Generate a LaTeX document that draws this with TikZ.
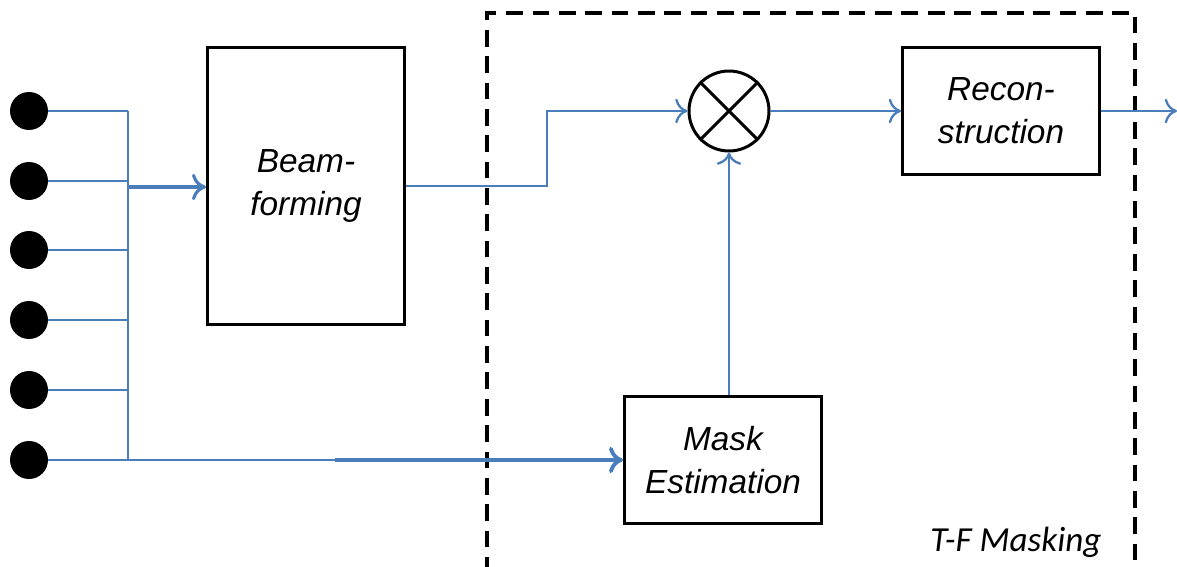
\documentclass[tikz,border=0pt]{standalone}
\usepackage{fontspec}
\setmainfont{Liberation Sans}
\newfontfamily\calibri{Carlito}
\usetikzlibrary{arrows.meta,positioning,calc}
\definecolor{wireblue}{RGB}{74,126,187}

\begin{document}
\begin{tikzpicture}[
x=0.02cm, y=-0.02cm,
box/.style={draw, line width=1.7pt, align=center, minimum width=3.94cm, inner sep=0pt, font=\itshape\fontsize{19}{24.4}\selectfont},
mic/.style={circle, fill=black, minimum size=0.76cm, inner sep=0pt},
wire/.style={draw=wireblue, line width=1.3pt},
arrow/.style={wire, -{To[length=7pt, width=14pt]}},
thickarrow/.style={draw=wireblue, line width=2.2pt, -{To[length=8pt, width=15pt]}},
frame/.style={draw, line width=2pt, dash pattern=on 9.5pt off 5.5pt}
]
\useasboundingbox (0,0) rectangle (1177,567);
% microphones and bus
\foreach \i/\y in {1/111,2/181,3/250,4/320,5/390,6/460}{
  \node[mic] (m\i) at (29,\y) {};
  \coordinate (b\i) at (128,\y);
  \draw[wire] (m\i.east) -- (b\i);
}
\draw[wire] (b1) -- (b6);
% blocks
\node[box, minimum height=5.56cm] (beam) at (306,186) {Beam-\\forming};
\node[draw, circle, line width=1.7pt, minimum size=1.6cm, inner sep=0pt] (mult) at (729,111) {};
\draw[line width=1.7pt] (mult.45) -- (mult.225) (mult.135) -- (mult.-45);
\node[box, minimum height=2.56cm] (recon) at (1001,111) {Recon-\\struction};
\node[box, minimum height=2.54cm] (mask) at (723,460) {Mask\\Estimation};
\coordinate (out) at (1177,111);
\coordinate (split) at (335,460);
% T-F masking frame
\draw[frame] (487,600) -- (487,13) -- (1135,13) -- (1135,600);
\node[font=\calibri\itshape\fontsize{20}{24}\selectfont] (tfm) at (1016,542) {T-F Masking};
% connections
\draw[thickarrow, line width=1.8pt] (128,187) -- (beam.west |- 128,187);
\draw[arrow] (beam.east) -- (547,186) |- (mult.west);
\draw[arrow] (mult.east) -- (recon.west);
\draw[arrow] (recon.east) -- (out);
\draw[arrow] (mask.north -| mult) -- (mult.south);
\draw[wire] (b6) -- (split);
\draw[thickarrow] (split) -- (mask.west);
\end{tikzpicture}
\end{document}
